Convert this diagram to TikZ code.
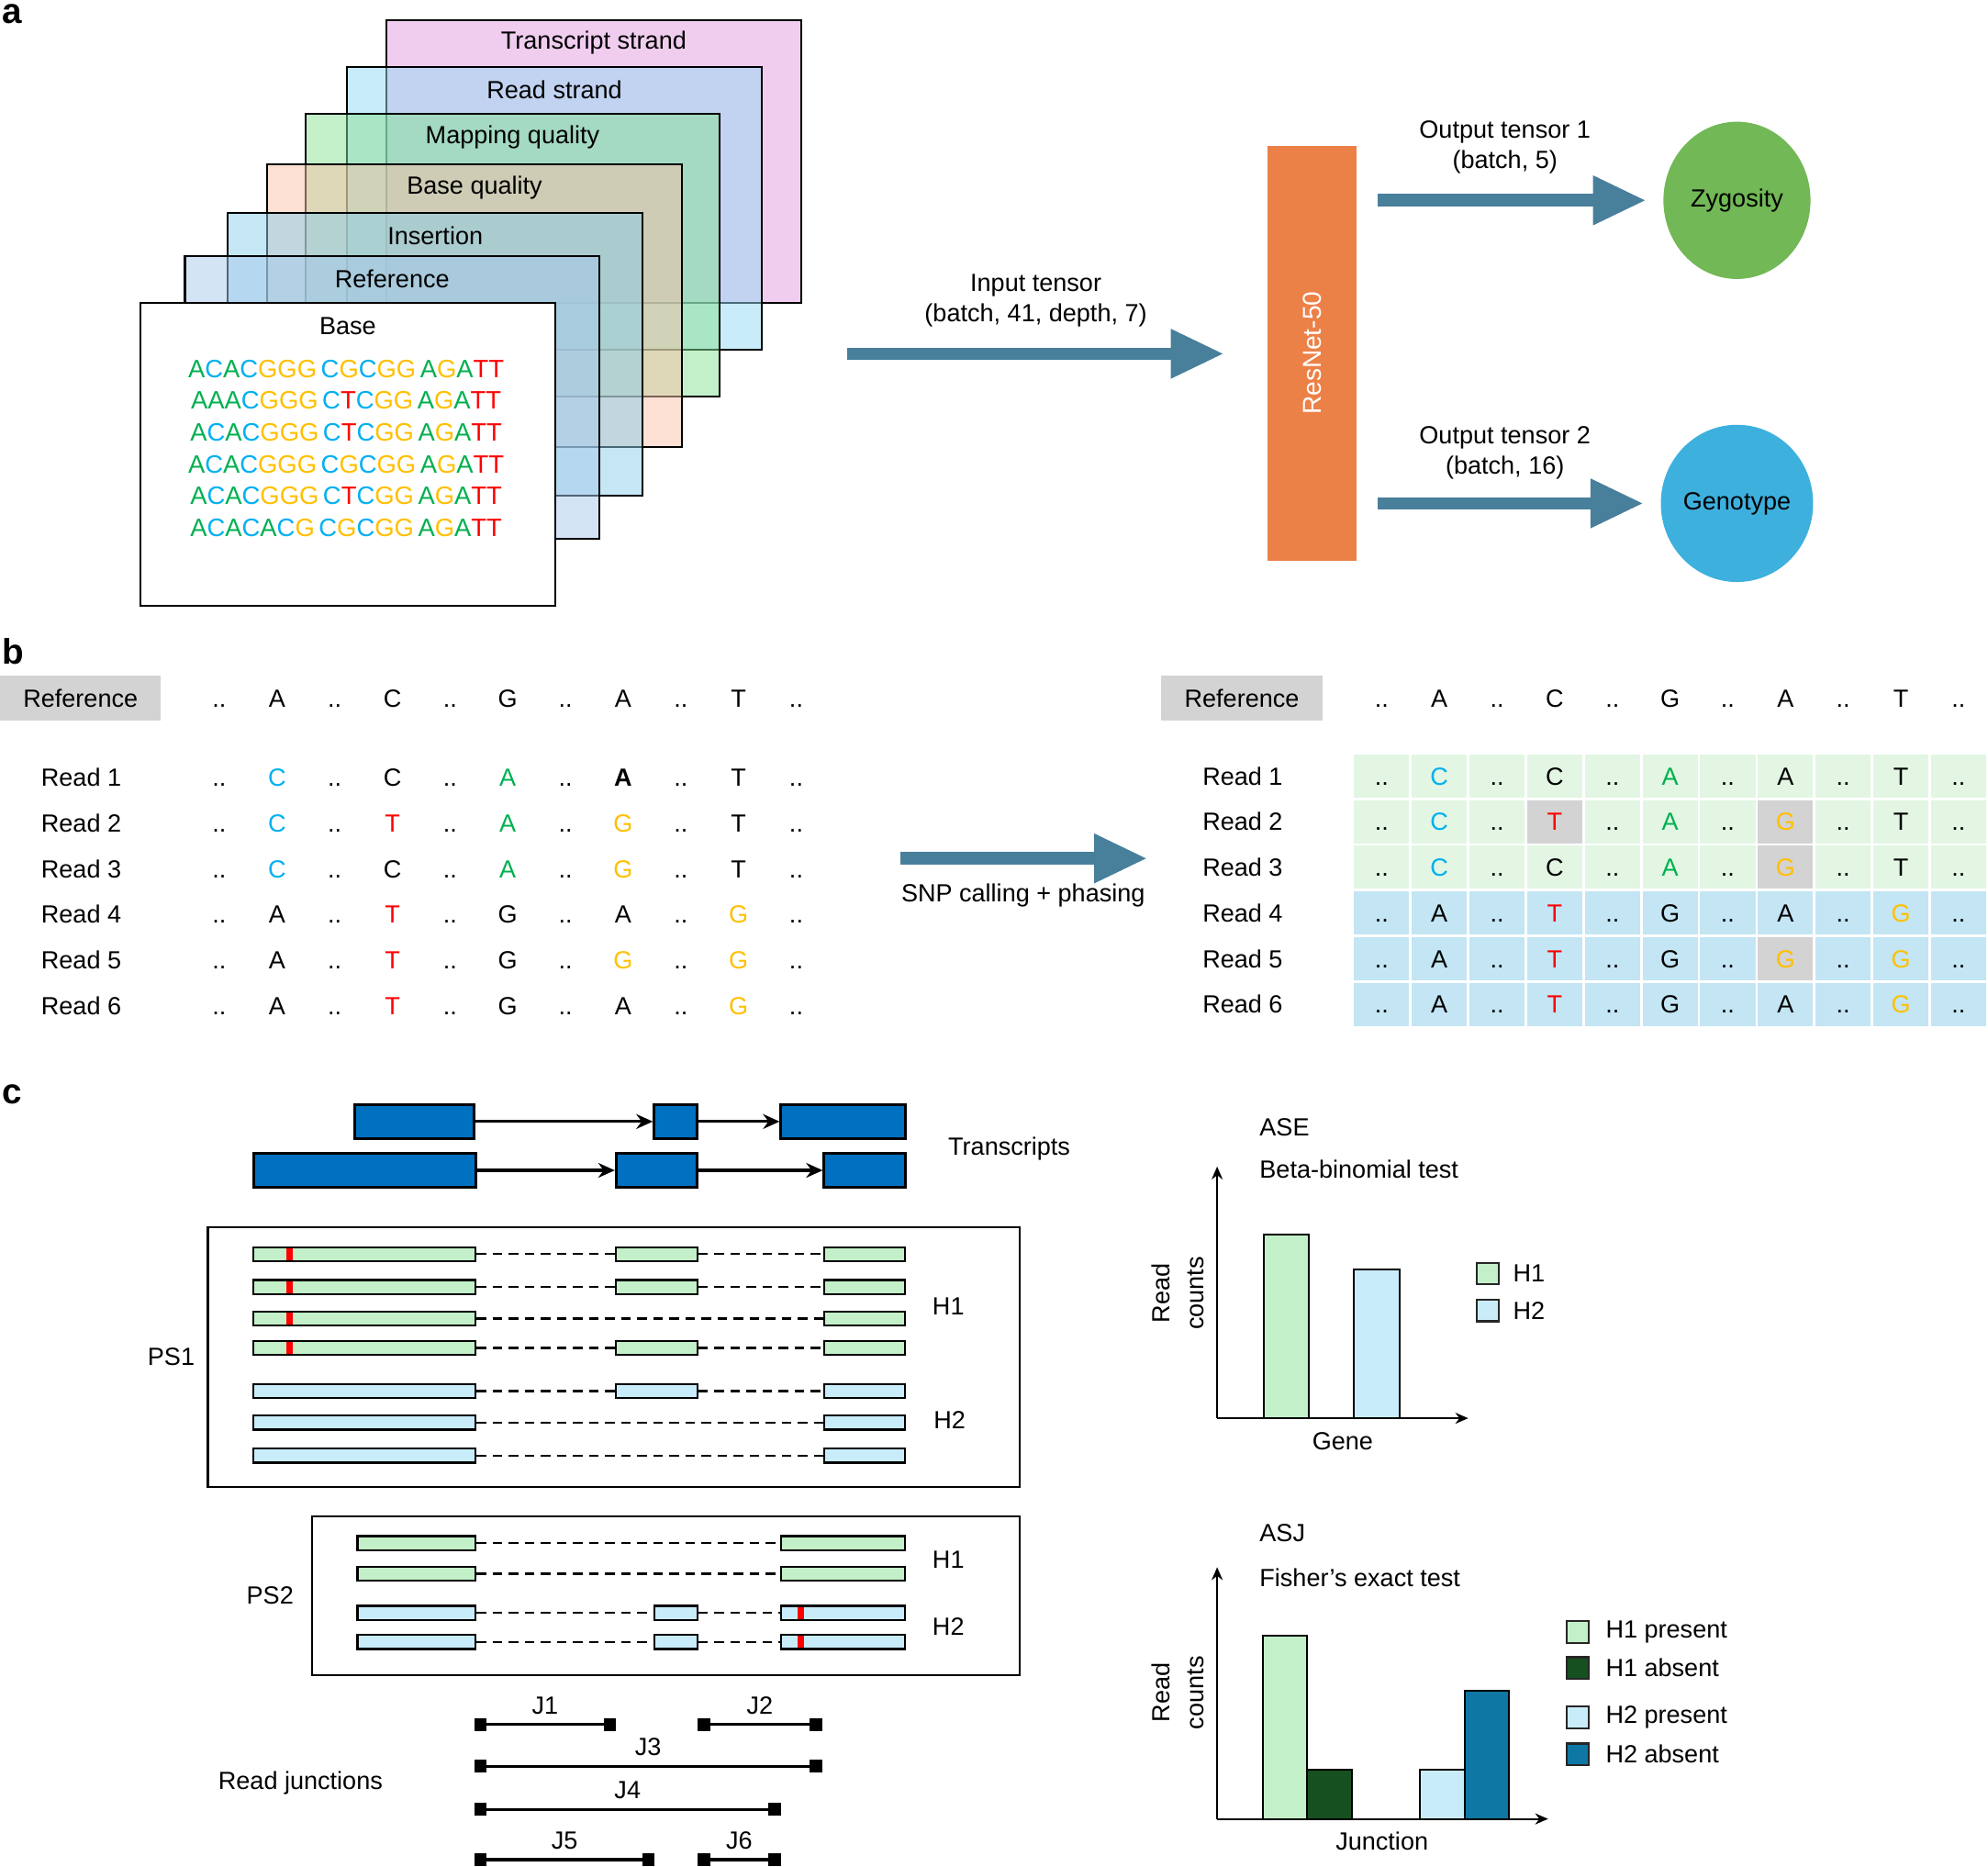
\documentclass[tikz,border=0pt]{standalone}
\usepackage{fontspec}
\setmainfont{Liberation Sans}
\usetikzlibrary{positioning,arrows.meta,shapes.geometric,calc}
\newlength\pu
\setlength\pu{0.13814mm}
% nucleotide colours
\definecolor{ntA}{HTML}{00B050}
\definecolor{ntC}{HTML}{00B0F0}
\definecolor{ntG}{HTML}{FFC000}
\definecolor{ntT}{HTML}{FF0000}
% input tensor layers (drawn half transparent)
\definecolor{lyTrs}{HTML}{E19BDD}
\definecolor{lyRds}{HTML}{93D9F5}
\definecolor{lyMpq}{HTML}{87E193}
\definecolor{lyBsq}{HTML}{F9C1A9}
\definecolor{lyIns}{HTML}{89CDEB}
\definecolor{lyRef}{HTML}{A7C9EB}
\definecolor{fatblue}{HTML}{487F9B}
\definecolor{resorange}{HTML}{EC8148}
\definecolor{zygreen}{HTML}{72B856}
\definecolor{genblue}{HTML}{3DB0DE}
\definecolor{refgrey}{HTML}{D3D3D3}
\definecolor{rowgreen}{HTML}{E2F6E3}
\definecolor{rowblue}{HTML}{C3E5F4}
\definecolor{hone}{HTML}{C3F0C8}
\definecolor{htwo}{HTML}{C9ECFA}
\definecolor{honeabs}{HTML}{175020}
\definecolor{htwoabs}{HTML}{0E77A3}
\definecolor{exonblue}{HTML}{0070C0}
\newcommand\ntA{\textcolor{ntA}{A}}
\newcommand\ntC{\textcolor{ntC}{C}}
\newcommand\ntG{\textcolor{ntG}{G}}
\newcommand\ntT{\textcolor{ntT}{T}}
\newcommand\bA{\textbf{A}}
\newcommand\dts{..}
\def\seqrow#1{\seqloop#1\relax}
\def\seqloop#1{\ifx\relax#1\else\csname nt#1\endcsname\expandafter\seqloop\fi}
\newcommand\seqx[1]{\expandafter\seqrow\expandafter{#1}}
% box spanning x from #3 to #4, centred at y #5, height #6
\newcommand\rbox[6][]{\node[rbx,#1,minimum width={(#4-#3)*\pu},minimum height={#6*\pu}] (#2) at ({(#3+#4)/2},#5) {};}
\tikzset{
  panel/.style={font=\fontsize{11}{11}\selectfont\bfseries, anchor=north west},
  layer/.style={draw=black, line width=0.22mm, fill opacity=0.5, anchor=north west,
                minimum width=327*\pu, minimum height=223*\pu},
  seqtxt/.style={font=\fontsize{7.8}{9}\selectfont},
  fat/.style={draw=fatblue, line width=1.38mm, -{Triangle[length=5.8mm,width=5mm]}},
  cell/.style={text height=5.6pt, text depth=0pt},
  rdlbl/.style={cell, anchor=west},
  cellbg/.style={cell, minimum width=43.5*\pu, minimum height=34*\pu},
  refbox/.style={cell, fill=refgrey, minimum width=127*\pu, minimum height=35*\pu},
  rbx/.style={draw=black, line width=0.22mm},
  exon/.style={fill=exonblue, line width=0.3mm},
  intr/.style={line width=0.32mm, -{Stealth[length=1.8mm,width=1.6mm]}},
  gapline/.style={line width=0.24mm, dash pattern=on 1.05mm off 0.7mm},
  snp/.style={fill=ntT, minimum width=5*\pu, minimum height=9.5*\pu},
  psbox/.style={draw=black, line width=0.22mm},
  jcap/.style={fill=black, minimum width=10*\pu, minimum height=10*\pu},
  jline/.style={line width=0.35mm},
  axis/.style={line width=0.2mm, -{Stealth[length=1.4mm,width=1.2mm]}},
  barst/.style={draw=black, line width=0.2mm},
  lgbox/.style={draw=black!85, line width=0.22mm, minimum size=17*\pu},
  ylbl/.style={rotate=90, align=center, font=\fontsize{7.7}{10.4}\selectfont},
}
\begin{document}
\begin{tikzpicture}[x=\pu, y=-\pu, font=\fontsize{7.7}{9.4}\selectfont, inner sep=0pt]
\useasboundingbox (0,0) rectangle (1568,1472);
% ---------- a ----------
\node[panel] (pa) at (1,3) {a};
\foreach \nm/\xx/\yy/\cl/\tx in {trs/304/15/lyTrs/Transcript strand, rds/273/52/lyRds/Read strand,
    mpq/240/89/lyMpq/Mapping quality, bsq/210/129/lyBsq/Base quality,
    ins/179/167/lyIns/Insertion, ref/145/201/lyRef/Reference}{
  \node[layer, fill=\cl] (\nm) at (\xx,\yy) {};
  \node (\nm-l) at ($(\nm.north)+(0,19)$) {\tx};
}
\node[layer, fill=white, fill opacity=1, minimum height=239*\pu] (base) at (110,238) {};
\node (base-l) at ($(base.north)+(0,19)$) {Base};
\foreach \sa/\sb/\sc [count=\ii from 0] in {ACACGGG/CGCGG/AGATT, AAACGGG/CTCGG/AGATT,
    ACACGGG/CTCGG/AGATT, ACACGGG/CGCGG/AGATT, ACACGGG/CTCGG/AGATT, ACACACG/CGCGG/AGATT}
  \node[seqtxt] (sq\ii) at (273,291+25*\ii) {\seqx{\sa}\,\seqx{\sb}\,\seqx{\sc}};

\node[fill=resorange, minimum width=70*\pu, minimum height=327*\pu] (res) at (1035,278.5) {};
\node[rotate=90, text=white, font=\fontsize{8}{9}\selectfont] (res-l) at (res) {ResNet-50};
\node[ellipse, fill=zygreen, minimum width=116*\pu, minimum height=124*\pu] (zyg) at (1370,158) {Zygosity};
\node[ellipse, fill=genblue, minimum width=116*\pu, minimum height=124*\pu] (gen) at (1370,397) {Genotype};
\coordinate (inS) at (668,279);
\draw[fat] (inS) -- ($(res.west |- inS)+(-34,0)$);
\draw[fat] ($(res.east |- zyg)+(16,0)$) -- ($(zyg.west)+(-13,0)$);
\draw[fat] ($(res.east |- gen)+(16,0)$) -- ($(gen.west)+(-13,0)$);
\node[align=center] (inl) at (817,237) {Input tensor\\(batch, 41, depth, 7)};
\node[align=center] (o1l) at (1187,116) {Output tensor 1\\(batch, 5)};
\node[align=center] (o2l) at (1187,357) {Output tensor 2\\(batch, 16)};

% ---------- b ----------
\node[panel] (pb) at (1,503) {b};
\node[refbox] (refL) at (63.5,550.5) {Reference};
\node[refbox] (refR) at (979.5,550.5) {Reference};
\foreach \x [count=\k from 0] in {\dts,A,\dts,C,\dts,G,\dts,A,\dts,T,\dts}{
  \node[cell] (hL-\k) at (173+45.5*\k,551) {\x};
  \node[cell] (hR-\k) at (1089.75+45.5*\k,551) {\x};
}
% phased table background
\foreach \rd/\bg [count=\ii from 0] in {1/rowgreen,2/rowgreen,3/rowgreen,4/rowblue,5/rowblue,6/rowblue}
  \foreach \k in {0,...,10}
    \node[cellbg, fill=\bg] (cR\rd-\k) at (1089.75+45.5*\k,612+36*\ii) {};
\foreach \rd/\k in {2/3,2/7,3/7,5/7}
  \node[cellbg, fill=refgrey] (gR\rd-\k) at (cR\rd-\k) {};
\foreach \rd/\rl [count=\ii from 0] in {
    1/{\dts,\ntC,\dts,C,\dts,\ntA,\dts,\bA,\dts,T,\dts},
    2/{\dts,\ntC,\dts,\ntT,\dts,\ntA,\dts,\ntG,\dts,T,\dts},
    3/{\dts,\ntC,\dts,C,\dts,\ntA,\dts,\ntG,\dts,T,\dts},
    4/{\dts,A,\dts,\ntT,\dts,G,\dts,A,\dts,\ntG,\dts},
    5/{\dts,A,\dts,\ntT,\dts,G,\dts,\ntG,\dts,\ntG,\dts},
    6/{\dts,A,\dts,\ntT,\dts,G,\dts,A,\dts,\ntG,\dts}}{
  \node[rdlbl] (rL\rd) at (32,613+36*\ii) {Read \rd};
  \node[rdlbl] (rR\rd) at (948,612+36*\ii) {Read \rd};
  \foreach \x [count=\k from 0] in \rl {
    \node[cell] (bL\rd-\k) at (173+45.5*\k,613+36*\ii) {\x};
    \node[cell] (bR\rd-\k) at (cR\rd-\k) {\def\bA{A}\x};
  }
}
\coordinate (snpS) at (710,677);
\coordinate (snpE) at (905,677);
\draw[fat] (snpS) -- (snpE);
\node (snpl) at (807,706) {SNP calling + phasing};

% ---------- c ----------
\node[panel] (pc) at (1,855) {c};
\rbox[exon]{t1a}{280}{374}{884.5}{27}
\rbox[exon]{t1b}{516}{550}{884.5}{27}
\rbox[exon]{t1c}{616}{714}{884.5}{27}
\rbox[exon]{t2a}{200}{375}{923}{27}
\rbox[exon]{t2b}{486}{550}{923}{27}
\rbox[exon]{t2c}{650}{714}{923}{27}
\draw[intr] (t1a) -- (t1b);
\draw[intr] (t1b) -- (t1c);
\draw[intr] (t2a) -- (t2b);
\draw[intr] (t2b) -- (t2c);
\node (trl) at (796,906) {Transcripts};

% phase set 1
\node[psbox, minimum width=640*\pu, minimum height=205*\pu] (ps1) at (484,1070.5) {};
\node (ps1l) at (135,1070) {PS1};
\foreach \yy/\mid/\snv/\hc [count=\ii] in {989/1/1/hone,1015/1/1/hone,1040/0/1/hone,1063/1/1/hone,
    1097/1/0/htwo,1122/0/0/htwo,1148/0/0/htwo}{
  \rbox[fill=\hc]{pa\ii}{200}{375}{\yy}{11}
  \rbox[fill=\hc]{pc\ii}{650}{714}{\yy}{11}
  \ifnum\mid=1
    \rbox[fill=\hc]{pb\ii}{486}{550}{\yy}{11}
    \draw[gapline] (pa\ii) -- (pb\ii);
    \draw[gapline] (pb\ii) -- (pc\ii);
  \else
    \draw[gapline] (pa\ii) -- (pc\ii);
  \fi
  \ifnum\snv=1 \node[snp] (ps\ii) at (228.5,\yy) {}; \fi
}
\node (ps1h1) at (748,1030) {H1};
\node (ps1h2) at (749,1120) {H2};

% phase set 2
\node[psbox, minimum width=558*\pu, minimum height=125*\pu] (ps2) at (525,1258.5) {};
\node (ps2l) at (213,1258) {PS2};
\foreach \yy/\mid/\snv/\hc [count=\ii] in {1217/0/0/hone,1241/0/0/hone,1272/1/1/htwo,1295/1/1/htwo}{
  \rbox[fill=\hc]{qa\ii}{282}{375}{\yy}{11}
  \rbox[fill=\hc]{qc\ii}{616}{714}{\yy}{11}
  \ifnum\mid=1
    \rbox[fill=\hc]{qb\ii}{516}{550}{\yy}{11}
    \draw[gapline] (qa\ii) -- (qb\ii);
    \draw[gapline] (qb\ii) -- (qc\ii);
  \else
    \draw[gapline] (qa\ii) -- (qc\ii);
  \fi
  \ifnum\snv=1 \node[snp] (qs\ii) at (631.5,\yy) {}; \fi
}
\node (ps2h1) at (748,1230) {H1};
\node (ps2h2) at (748,1283) {H2};

% read junctions
\node (rjl) at (237,1406) {Read junctions};
\foreach \jn/\xa/\xb/\yy in {J1/379/481/1360, J2/555/643.5/1360, J3/379/643.5/1393,
    J4/379/611/1427, J5/379/511.5/1466.5, J6/555/611/1466.5}{
  \node[jcap] (\jn-a) at (\xa,\yy) {};
  \node[jcap] (\jn-b) at (\xb,\yy) {};
  \draw[jline] (\jn-a.center) -- (\jn-b.center);
  \node (\jn-l) at ($(\jn-a)!0.5!(\jn-b)+(0,-15)$) {\jn};
}

% ASE chart
\coordinate (aseO) at (960,1118.5);
\coordinate (aseY) at (960,920);
\coordinate (aseX) at (1158,1118.5);
\draw[barst, fill=hone] (997,1118.5) rectangle (1032,974);
\draw[barst, fill=htwo] (1068,1118.5) rectangle (1104,1001);
\draw[axis] (aseO) -- (aseY);
\draw[axis] (aseO) -- (aseX);
\node[anchor=west] (asel) at (993,889) {ASE};
\node[anchor=west] (aset) at (993,922) {Beta-binomial test};
\node (asex) at (1059,1137) {Gene};
\node[ylbl] (asey) at (929,1020) {Read\\counts};
\node[lgbox, fill=hone] (lg1) at (1173.5,1004.5) {};
\node[lgbox, fill=htwo] (lg2) at (1173.5,1033.5) {};
\node[anchor=west] (lg1l) at (1193,1004.5) {H1};
\node[anchor=west] (lg2l) at (1193,1033.5) {H2};

% ASJ chart
\coordinate (asjO) at (960,1434.5);
\coordinate (asjY) at (960,1236);
\coordinate (asjX) at (1221,1434.5);
\draw[barst, fill=hone] (996,1434.5) rectangle (1031,1290);
\draw[barst, fill=honeabs] (1031,1434.5) rectangle (1066,1396);
\draw[barst, fill=htwo] (1120,1434.5) rectangle (1155,1396);
\draw[barst, fill=htwoabs] (1155,1434.5) rectangle (1190,1333.5);
\draw[axis] (asjO) -- (asjY);
\draw[axis] (asjO) -- (asjX);
\node[anchor=west] (asjl) at (993,1209) {ASJ};
\node[anchor=west] (asjt) at (993,1244) {Fisher’s exact test};
\node (asjx) at (1090,1452) {Junction};
\node[ylbl] (asjy) at (929,1335) {Read\\counts};
\foreach \cl/\yy/\tx [count=\ii] in {hone/1287/H1 present, honeabs/1315.5/H1 absent,
    htwo/1354.5/H2 present, htwoabs/1383.5/H2 absent}{
  \node[lgbox, fill=\cl] (lj\ii) at (1244.5,\yy) {};
  \node[anchor=west] (lj\ii-l) at (1266,\yy) {\tx};
}
\end{tikzpicture}
\end{document}
